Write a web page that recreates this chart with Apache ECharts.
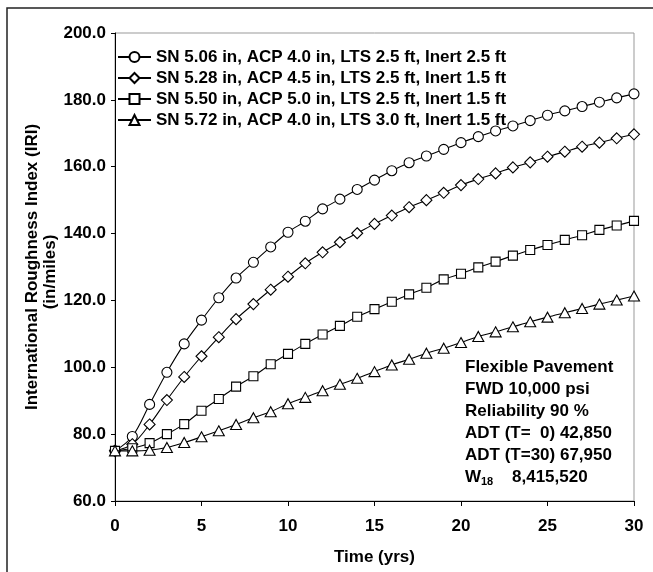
<!DOCTYPE html>
<html>
<head>
<meta charset="utf-8">
<script src="https://cdn.jsdelivr.net/npm/echarts@6/dist/echarts.min.js"></script>
<style>html,body{margin:0;padding:0;background:#fff}#c{width:653px;height:572px}</style>
</head>
<body>
<div id="c"></div>
<script>
var years = [0,1,2,3,4,5,6,7,8,9,10,11,12,13,14,15,16,17,18,19,20,21,22,23,24,25,26,27,28,29,30];
var seriesNames = [
  'SN 5.06 in, ACP 4.0 in, LTS 2.5 ft, Inert 2.5 ft',
  'SN 5.28 in, ACP 4.5 in, LTS 2.5 ft, Inert 1.5 ft',
  'SN 5.50 in, ACP 5.0 in, LTS 2.5 ft, Inert 1.5 ft',
  'SN 5.72 in, ACP 4.0 in, LTS 3.0 ft, Inert 1.5 ft'
];
var iriSN506 = [75.0, 79.3, 88.9, 98.5, 107.0, 114.1, 120.8, 126.7, 131.4, 136.0, 140.4, 143.7, 147.4, 150.3, 153.2, 156.0, 158.8, 161.2, 163.2, 165.2, 167.2, 169.0, 170.7, 172.2, 173.8, 175.4, 176.7, 178.0, 179.3, 180.6, 181.8];
var iriSN528 = [75.0, 77.0, 82.9, 90.2, 97.1, 103.3, 109.0, 114.4, 118.9, 123.2, 127.1, 131.1, 134.4, 137.4, 140.1, 142.9, 145.4, 147.9, 150.0, 152.2, 154.5, 156.3, 158.0, 159.8, 161.3, 163.0, 164.5, 166.0, 167.2, 168.5, 169.7];
var iriSN550 = [75.0, 75.8, 77.3, 80.0, 83.0, 87.0, 90.5, 94.2, 97.3, 100.9, 104.0, 107.0, 109.8, 112.4, 115.1, 117.4, 119.6, 121.8, 123.8, 126.3, 128.0, 129.9, 131.6, 133.4, 135.1, 136.6, 138.1, 139.5, 141.1, 142.4, 143.8];
var iriSN572 = [75.0, 75.0, 75.2, 76.0, 77.5, 79.2, 81.0, 82.9, 84.9, 86.7, 89.1, 91.0, 93.0, 94.9, 96.7, 98.7, 100.7, 102.4, 104.2, 105.7, 107.4, 109.2, 110.6, 112.1, 113.6, 115.0, 116.3, 117.6, 118.9, 120.1, 121.3];
var noteLines = ['Flexible Pavement', 'FWD 10,000 psi', 'Reliability 90 %', 'ADT (T=  0) 42,850', 'ADT (T=30) 67,950'];
var w18Label = ['W', '18', '8,415,520'];

var FONT = '"Liberation Sans", Arial, sans-serif';
var symbols = ['circle', 'diamond', 'rect', 'triangle'];
var sizes = [10, 11, 9, [11, 10]];
var allData = [iriSN506, iriSN528, iriSN550, iriSN572];

function pairs(vals) { return years.map(function (y, i) { return [y, vals[i]]; }); }

var series = allData.map(function (vals, k) {
  return {
    name: seriesNames[k],
    type: 'line',
    data: pairs(vals),
    smooth: 0.35,
    symbol: symbols[k],
    symbolSize: sizes[k],
    showAllSymbol: true,
    lineStyle: { color: '#000', width: 1.1 },
    itemStyle: { color: '#fff', borderColor: '#000', borderWidth: 1.1 },
    emphasis: { disabled: true },
    z: 3 + k
  };
});

var graphics = [
  { type: 'rect', shape: { x: 7, y: 8, width: 700, height: 640 }, style: { fill: 'none', stroke: '#222', lineWidth: 1.5 }, silent: true },
  { type: 'text', x: 32, y: 267, rotation: Math.PI / 2, style: { text: 'International Roughness Index (IRI)', font: 'bold 17px ' + FONT, fill: '#000', align: 'center', verticalAlign: 'middle' } },
  { type: 'text', x: 50, y: 272, rotation: Math.PI / 2, style: { text: '(in/miles)', font: 'bold 17px ' + FONT, fill: '#000', align: 'center', verticalAlign: 'middle' } }
];
noteLines.forEach(function (t, i) {
  graphics.push({ type: 'text', x: 465, y: 367 + i * 22, style: { text: t, font: 'bold 17px ' + FONT, fill: '#000', align: 'left', verticalAlign: 'middle' } });
});
graphics.push({ type: 'text', x: 465, y: 477, style: { text: w18Label[0], font: 'bold 17px ' + FONT, fill: '#000', align: 'left', verticalAlign: 'middle' } });
graphics.push({ type: 'text', x: 481, y: 482, style: { text: w18Label[1], font: 'bold 11px ' + FONT, fill: '#000', align: 'left', verticalAlign: 'middle' } });
graphics.push({ type: 'text', x: 512, y: 477, style: { text: w18Label[2], font: 'bold 17px ' + FONT, fill: '#000', align: 'left', verticalAlign: 'middle' } });

var option = {
  animation: false,
  backgroundColor: '#fff',
  grid: { left: 115, top: 33, right: 19, bottom: 71, show: true, borderColor: '#999', borderWidth: 1, containLabel: false, outerBoundsMode: 'none' },
  legend: {
    orient: 'vertical', left: 112, top: 43.5,
    itemWidth: 33, itemHeight: 12.5, itemGap: 4,
    selectedMode: false,
    textStyle: { fontFamily: FONT, fontWeight: 'bold', fontSize: 17, color: '#000', lineHeight: 17 },
    data: seriesNames
  },
  xAxis: {
    type: 'value', min: 0, max: 30, interval: 5,
    name: 'Time (yrs)', nameLocation: 'middle', nameGap: 48,
    nameTextStyle: { fontFamily: FONT, fontWeight: 'bold', fontSize: 17, color: '#000' },
    axisLine: { show: true, onZero: false, lineStyle: { color: '#000', width: 1 } },
    axisTick: { show: true, inside: false, length: 5, lineStyle: { color: '#000' } },
    axisLabel: { fontFamily: FONT, fontWeight: 'bold', fontSize: 17, color: '#000', margin: 17 },
    splitLine: { show: false }
  },
  yAxis: {
    type: 'value', min: 60, max: 200, interval: 20,
    axisLine: { show: true, onZero: false, lineStyle: { color: '#000', width: 1 } },
    axisTick: { show: true, inside: false, length: 4, lineStyle: { color: '#000' } },
    axisLabel: { fontFamily: FONT, fontWeight: 'bold', fontSize: 17, color: '#000', margin: 9, formatter: function (v) { return v.toFixed(1); } },
    splitLine: { show: false }
  },
  graphic: graphics,
  series: series
};

var chart = echarts.init(document.getElementById('c'), null, { renderer: 'canvas' });
chart.setOption(option);
</script>
</body>
</html>
